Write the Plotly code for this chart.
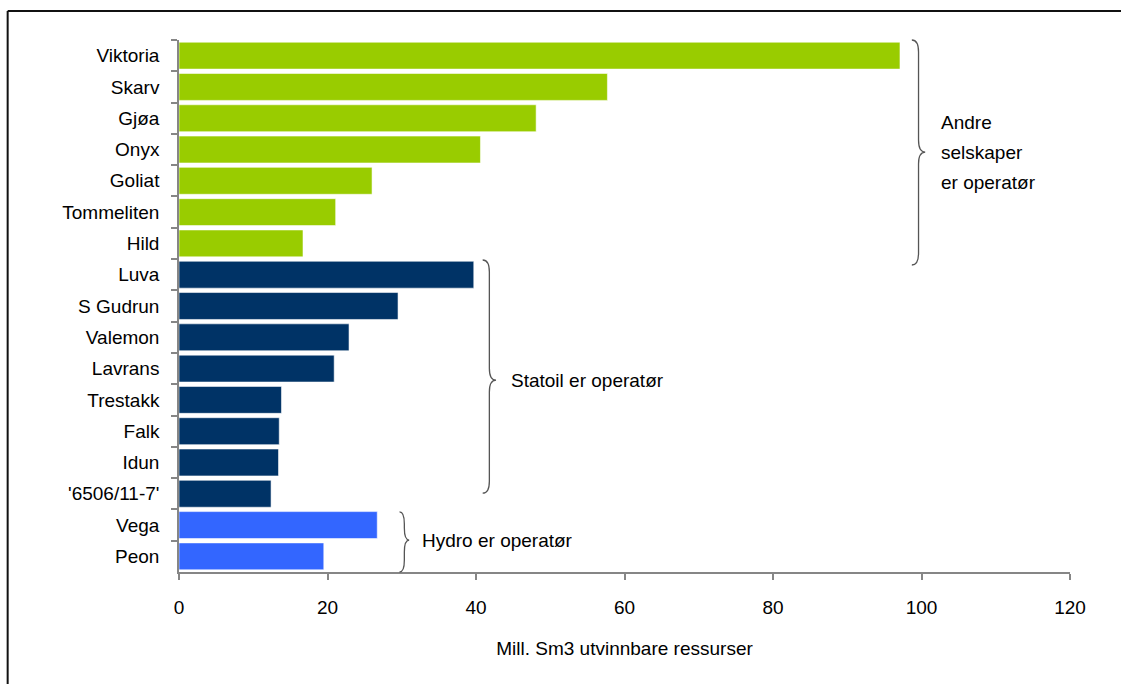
import plotly.graph_objects as go

# Fields and recoverable resources (mill. Sm3), grouped by operator
fields_other = ["Viktoria", "Skarv", "Gjøa", "Onyx", "Goliat", "Tommeliten", "Hild"]
values_other = [97.1, 57.7, 48.1, 40.6, 26.0, 21.1, 16.7]

fields_statoil = ["Luva", "S Gudrun", "Valemon", "Lavrans", "Trestakk", "Falk", "Idun", "'6506/11-7'"]
values_statoil = [39.7, 29.5, 22.9, 20.9, 13.8, 13.5, 13.4, 12.4]

fields_hydro = ["Vega", "Peon"]
values_hydro = [26.7, 19.5]

x_ticks = [0, 20, 40, 60, 80, 100, 120]

groups = [
    ("Andre selskaper er operatør", fields_other, values_other, "#99CC00"),
    ("Statoil er operatør", fields_statoil, values_statoil, "#003366"),
    ("Hydro er operatør", fields_hydro, values_hydro, "#3366FF"),
]

all_fields = fields_other + fields_statoil + fields_hydro
n = len(all_fields)

FONT = "Liberation Sans, Arial, sans-serif"
PLOT_H = 684 - 40 - 112  # plot area height in px

fig = go.Figure()
for name, fields, vals, color in groups:
    fig.add_trace(go.Bar(
        y=fields, x=vals, orientation="h", name=name,
        marker=dict(color=color, line=dict(color="rgba(255,255,255,0.55)", width=1)),
        showlegend=False,
    ))


def idx_to_paper(i):
    # category index (0 at top) -> paper y on the reversed category axis
    return 1 - (i + 0.5) / n


def brace_path(x0, w, top, bot, mid, r):
    xm = x0 + w / 2
    return (f"M {x0},{top} Q {xm},{top} {xm},{top - r} "
            f"L {xm},{mid + r} Q {xm},{mid} {x0 + w},{mid} "
            f"Q {xm},{mid} {xm},{mid - r} "
            f"L {xm},{bot + r} Q {xm},{bot} {x0},{bot}")


# brace placement: (x position, width in x units, first idx, last idx, tip idx, label x, label lines)
braces = [
    (98.7, 1.8, -0.5, 6.69, 3.08, 102.4, ["Andre", "selskaper", "er operatør"]),
    (40.9, 1.8, 6.53, 13.98, 10.37, 44.4, ["Statoil er operatør"]),
    (29.7, 1.3, 14.58, 16.5, 15.48, 32.4, ["Hydro er operatør"]),
]
r = 12 / PLOT_H
line_step = 30 / PLOT_H
for x0, w, i_top, i_bot, i_mid, lx, lines in braces:
    top, bot, mid = idx_to_paper(i_top), idx_to_paper(i_bot), idx_to_paper(i_mid)
    fig.add_shape(type="path", xref="x", yref="paper",
                  path=brace_path(x0, w, top, bot, mid, r),
                  line=dict(color="#555555", width=1.3))
    k = len(lines)
    for j, txt in enumerate(lines):
        fig.add_annotation(x=lx, y=mid + ((k - 1) / 2 - j) * line_step,
                           xref="x", yref="paper", text=txt,
                           showarrow=False, xanchor="left", yanchor="middle",
                           font=dict(family=FONT, size=19, color="black"))

# outer frame (top and left edges)
fig.add_shape(type="line", xref="paper", yref="paper", x0=-0.1923, x1=1.1, y0=1.0545, y1=1.0545,
              line=dict(color="#111111", width=2))
fig.add_shape(type="line", xref="paper", yref="paper", x0=-0.1923, x1=-0.1923, y0=1.0545, y1=-0.25,
              line=dict(color="#111111", width=2))

fig.update_layout(
    width=1121, height=684,
    margin=dict(l=179, r=51, t=40, b=112),
    paper_bgcolor="white", plot_bgcolor="white",
    bargap=0.14,
    font=dict(family=FONT, size=19, color="black"),
    xaxis=dict(
        range=[0, 120], tickvals=x_ticks, showgrid=False, zeroline=False,
        showline=True, linecolor="#868686", linewidth=1.5,
        ticks="outside", ticklen=6, tickcolor="#868686", tickwidth=1.5,
        ticklabelstandoff=11,
        title=dict(text="Mill. Sm3 utvinnbare ressurser", standoff=25,
                   font=dict(family=FONT, size=19, color="black")),
        automargin=False, fixedrange=True,
    ),
    yaxis=dict(
        type="category", categoryorder="array", categoryarray=all_fields,
        autorange="reversed", showgrid=False, zeroline=False,
        showline=True, linecolor="#868686", linewidth=1.5,
        ticks="outside", ticklen=6, tickcolor="#868686", tickwidth=1.5,
        tickson="boundaries", ticklabelstandoff=14,
        automargin=False, fixedrange=True,
    ),
)

fig.write_html("out.html")
